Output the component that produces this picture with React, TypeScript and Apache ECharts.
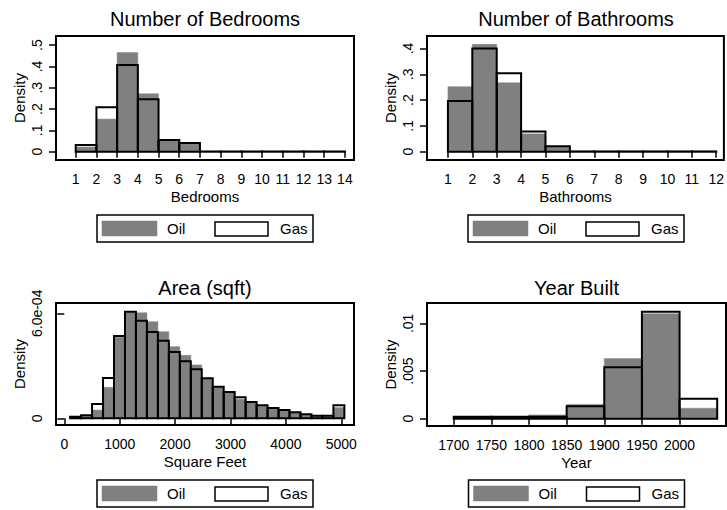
import React, { useEffect, useRef } from "react";
import * as echarts from "echarts";

// ---------- Data ----------
const bedroomEdges = [1, 2, 3, 4, 5, 6, 7, 8, 9, 10, 11, 12, 13, 14];
const bedroomOil = [0.022, 0.153, 0.465, 0.272, 0.053, 0.038, 0.001, 0.001, 0, 0, 0, 0, 0];
const bedroomGas = [0.031, 0.208, 0.407, 0.246, 0.055, 0.041, 0.001, 0.001, 0.001, 0.001, 0.001, 0.001, 0.001];

const bathroomEdges = [1, 2, 3, 4, 5, 6, 7, 8, 9, 10, 11, 12];
const bathroomOil = [0.252, 0.416, 0.267, 0.069, 0.018, 0.001, 0, 0, 0, 0, 0];
const bathroomGas = [0.196, 0.4, 0.304, 0.078, 0.021, 0.001, 0.001, 0.001, 0.001, 0.001, 0.001];

const areaEdges = [105, 303, 501, 699, 897, 1095, 1293, 1491, 1689, 1887, 2085, 2283, 2481, 2679, 2877, 3075, 3273, 3471, 3669, 3867, 4065, 4263, 4461, 4659, 4857, 5055];
const areaOil = [0.03e-4, 0.15e-4, 0.47e-4, 1.77e-4, 4.63e-4, 6.05e-4, 6.03e-4, 5.52e-4, 4.95e-4, 4.09e-4, 3.6e-4, 3.05e-4, 2.27e-4, 1.8e-4, 1.48e-4, 1.09e-4, 0.91e-4, 0.72e-4, 0.57e-4, 0.45e-4, 0.32e-4, 0.2e-4, 0.12e-4, 0.12e-4, 0.61e-4];
const areaGas = [0.09e-4, 0.17e-4, 0.82e-4, 2.3e-4, 4.7e-4, 6.09e-4, 5.58e-4, 4.93e-4, 4.43e-4, 3.79e-4, 3.26e-4, 2.8e-4, 2.29e-4, 1.81e-4, 1.5e-4, 1.2e-4, 0.93e-4, 0.74e-4, 0.59e-4, 0.47e-4, 0.34e-4, 0.23e-4, 0.15e-4, 0.15e-4, 0.74e-4];

const yearEdges = [1700, 1750, 1800, 1850, 1900, 1950, 2000, 2050];
const yearOil = [0.0001, 0.0001, 0.0004, 0.0015, 0.0063, 0.011, 0.0011];
const yearGas = [0.0002, 0.0002, 0.0002, 0.0013, 0.0054, 0.0112, 0.0021];

const bedroomXTicks = [1, 2, 3, 4, 5, 6, 7, 8, 9, 10, 11, 12, 13, 14];
const bedroomXLabels = ["1", "2", "3", "4", "5", "6", "7", "8", "9", "10", "11", "12", "13", "14"];
const bathroomXTicks = [1, 2, 3, 4, 5, 6, 7, 8, 9, 10, 11, 12];
const bathroomXLabels = ["1", "2", "3", "4", "5", "6", "7", "8", "9", "10", "11", "12"];
const areaXTicks = [0, 1000, 2000, 3000, 4000, 5000];
const areaXLabels = ["0", "1000", "2000", "3000", "4000", "5000"];
const yearXTicks = [1700, 1750, 1800, 1850, 1900, 1950, 2000];
const yearXLabels = ["1700", "1750", "1800", "1850", "1900", "1950", "2000"];

const bedroomYTicks = [0, 0.1, 0.2, 0.3, 0.4, 0.5];
const bedroomYLabels = ["0", ".1", ".2", ".3", ".4", ".5"];
const bathroomYTicks = [0, 0.1, 0.2, 0.3, 0.4];
const bathroomYLabels = ["0", ".1", ".2", ".3", ".4"];
const areaYTicks = [0, 0.0006];
const areaYLabels = ["0", "6.0e-04"];
const yearYTicks = [0, 0.005, 0.01];
const yearYLabels = ["0", ".005", ".01"];

const titles = ["Number of Bedrooms", "Number of Bathrooms", "Area (sqft)", "Year Built"];
const xNames = ["Bedrooms", "Bathrooms", "Square Feet", "Year"];
const legendNames = ["Oil", "Gas"];

// ---------- Layout ----------
const FONT = "'Liberation Sans', Arial, sans-serif";
const OIL_COLOR = "#808080";

const panels = [
  { grid: { left: 56, top: 36, width: 298, height: 124 }, xMin: 0.048, xMax: 14.44, yMin: -0.039, yMax: 0.543,
    edges: bedroomEdges, oil: bedroomOil, gas: bedroomGas, xTicks: bedroomXTicks, xLabels: bedroomXLabels,
    yTicks: bedroomYTicks, yLabels: bedroomYLabels, titleY: 19, legendTop: 215 },
  { grid: { left: 427, top: 36, width: 298, height: 124 }, xMin: 0.142, xMax: 12.315, yMin: -0.0322, yMax: 0.4484,
    edges: bathroomEdges, oil: bathroomOil, gas: bathroomGas, xTicks: bathroomXTicks, xLabels: bathroomXLabels,
    yTicks: bathroomYTicks, yLabels: bathroomYLabels, titleY: 19, legendTop: 215 },
  { grid: { left: 56, top: 303, width: 298, height: 122 }, xMin: -150, xMax: 5229, yMin: -0.383e-4, yMax: 6.589e-4,
    edges: areaEdges, oil: areaOil, gas: areaGas, xTicks: areaXTicks, xLabels: areaXLabels,
    yTicks: areaYTicks, yLabels: areaYLabels, titleY: 288, legendTop: 480 },
  { grid: { left: 427, top: 303, width: 299, height: 123 }, xMin: 1664.5, xMax: 2061.7, yMin: -0.000765, yMax: 0.01213,
    edges: yearEdges, oil: yearOil, gas: yearGas, xTicks: yearXTicks, xLabels: yearXLabels,
    yTicks: yearYTicks, yLabels: yearYLabels, titleY: 288, legendTop: 480 },
];

function binData(edges: number[], vals: number[]) {
  return vals.map((v, i) => [edges[i], edges[i + 1], v]);
}

function lookup(ticks: number[], labels: string[]) {
  return (v: number) => {
    let best = 0;
    ticks.forEach((t, k) => { if (Math.abs(t - v) < Math.abs(ticks[best] - v)) best = k; });
    return labels[best];
  };
}

function makeRender(fill: string, stroke: string, lw: number) {
  return (_params: any, api: any) => {
    const x0 = api.value(0);
    const x1 = api.value(1);
    const h = api.value(2);
    const p0 = api.coord([x0, 0]);
    const p1 = api.coord([x1, h]);
    return {
      type: "polygon",
      shape: { points: [[p0[0], p0[1]], [p0[0], p1[1]], [p1[0], p1[1]], [p1[0], p0[1]]] },
      style: { fill, stroke, lineWidth: lw },
    };
  };
}

function buildOption() {
  const grids: any[] = [];
  const xAxes: any[] = [];
  const yAxes: any[] = [];
  const series: any[] = [];
  const graphics: any[] = [];

  panels.forEach((p, i) => {
    grids.push({ ...p.grid, show: true, borderColor: "#000", borderWidth: 2, backgroundColor: "#fff" });
    xAxes.push({
      type: "value", gridIndex: i, min: p.xMin, max: p.xMax,
      axisLine: { show: false }, splitLine: { show: false },
      axisTick: { show: true, customValues: p.xTicks, length: 6, lineStyle: { color: "#000", width: 1.5 } },
      axisLabel: { customValues: p.xTicks, margin: 12, fontSize: 14, color: "#000", fontFamily: FONT,
        formatter: lookup(p.xTicks, p.xLabels) },
      name: xNames[i], nameLocation: "middle", nameGap: 29,
      nameTextStyle: { fontSize: 15, color: "#000", fontFamily: FONT },
    });
    yAxes.push({
      type: "value", gridIndex: i, min: p.yMin, max: p.yMax,
      axisLine: { show: false }, splitLine: { show: false },
      axisTick: { show: true, customValues: p.yTicks, length: 7, lineStyle: { color: "#000", width: 1.5 } },
      axisLabel: {
        customValues: p.yTicks, rotate: 90, margin: 12, fontSize: 14, color: "#000", fontFamily: FONT,
        formatter: lookup(p.yTicks, p.yLabels),
      },
      name: "Density", nameLocation: "middle", nameGap: 29, nameRotate: 90,
      nameTextStyle: { fontSize: 15, color: "#000", fontFamily: FONT },
    });
    series.push({
      type: "custom", name: "Oil", xAxisIndex: i, yAxisIndex: i,
      renderItem: makeRender(OIL_COLOR, OIL_COLOR, 0.5),
      data: binData(p.edges, p.oil), silent: true,
    });
    series.push({
      type: "custom", name: "Gas", xAxisIndex: i, yAxisIndex: i,
      renderItem: makeRender("none", "#000", 2),
      data: binData(p.edges, p.gas), silent: true, z: 3,
    });

    const cx = p.grid.left + p.grid.width / 2;
    graphics.push({
      type: "text", x: cx, y: p.titleY,
      style: { text: titles[i], fontSize: 20, fill: "#000", fontFamily: FONT, align: "center", verticalAlign: "middle" },
    });
    const bx = cx - 108;
    const by = p.legendTop;
    graphics.push({ type: "rect", shape: { x: bx, y: by, width: 216, height: 27 }, style: { fill: "#fff", stroke: "#000", lineWidth: 1.5 } });
    graphics.push({ type: "rect", shape: { x: bx + 5, y: by + 6, width: 55, height: 15 }, style: { fill: OIL_COLOR, stroke: OIL_COLOR, lineWidth: 0.5 } });
    graphics.push({ type: "text", x: bx + 70, y: by + 13.5, style: { text: legendNames[0], fontSize: 15, fill: "#000", fontFamily: FONT, align: "left", verticalAlign: "middle" } });
    graphics.push({ type: "rect", shape: { x: bx + 118, y: by + 7, width: 53, height: 14 }, style: { fill: "#fff", stroke: "#000", lineWidth: 1.5 } });
    graphics.push({ type: "text", x: bx + 183, y: by + 13.5, style: { text: legendNames[1], fontSize: 15, fill: "#000", fontFamily: FONT, align: "left", verticalAlign: "middle" } });
  });

  return {
    animation: false,
    backgroundColor: "#fff",
    grid: grids,
    xAxis: xAxes,
    yAxis: yAxes,
    series,
    graphic: graphics,
  };
}

export default function App() {
  const ref = useRef<HTMLDivElement>(null);
  useEffect(() => {
    if (!ref.current) return;
    const chart = echarts.init(ref.current, undefined, { renderer: "svg" });
    chart.setOption(buildOption() as any);
    return () => chart.dispose();
  }, []);
  return <div ref={ref} style={{ position: "absolute", left: 0, top: 0, width: 727, height: 510 }} />;
}
